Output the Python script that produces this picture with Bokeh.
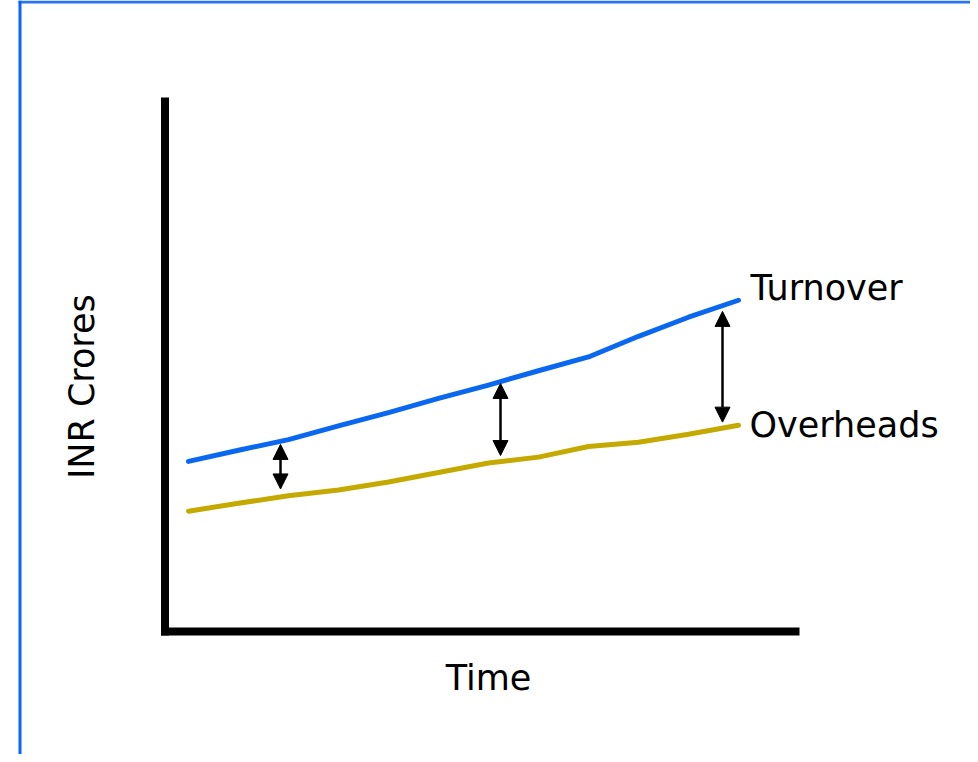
from bokeh.plotting import figure
from bokeh.models import ColumnDataSource, Arrow, NormalHead, Label, Range1d, BoxAnnotation
from bokeh.embed import file_html
from bokeh.resources import INLINE
import math

# ---- data ----
times = [0, 1, 2, 3, 4, 5, 6, 7, 8, 9, 10, 11]
turnover = [32.1, 34.2, 36.2, 38.8, 41.3, 44.0, 46.5, 49.2, 51.8, 55.7, 59.3, 62.5]
overheads = [22.7, 24.2, 25.6, 26.7, 28.2, 30.0, 31.8, 32.9, 34.9, 35.7, 37.2, 38.9]

gap_times = [1.84, 6.24, 10.68]
gap_top = [35.3, 46.8, 60.4]
gap_bottom = [26.9, 33.2, 39.5]

series_names = ["Turnover", "Overheads"]
x_title = "Time"
y_title = "INR Crores"

# axis extents (data units)
axis_x = [-0.47, 12.14]
axis_y = [0, 100]

BLUE = "#0a68f0"
GOLD = "#c4aa00"
FONT = "DejaVu Sans"

p = figure(width=970, height=754, output_backend="svg", toolbar_location=None,
           x_range=Range1d(-3.76, 15.64), y_range=Range1d(-23.21, 119.06),
           min_border=0, x_axis_location=None, y_axis_location=None)
p.grid.visible = False
p.outline_line_color = None
p.background_fill_color = "white"
p.border_fill_color = "white"

# axis lines
p.line([axis_x[0], axis_x[0]], [axis_y[0], axis_y[1]], line_color="black", line_width=8, line_cap="square")
p.line([axis_x[0], axis_x[1]], [axis_y[0], axis_y[0]], line_color="black", line_width=8, line_cap="square")

p.line(times, turnover, line_color=BLUE, line_width=5, line_cap="round", line_join="round")
p.line(times, overheads, line_color=GOLD, line_width=5, line_cap="round", line_join="round")

src = ColumnDataSource(dict(x=gap_times, y0=gap_top, y1=gap_bottom))
p.add_layout(Arrow(x_start="x", y_start="y1", x_end="x", y_end="y0", source=src,
                   line_width=2.5, line_color="black",
                   start=NormalHead(size=15, fill_color="black", line_color="black", line_width=1),
                   end=NormalHead(size=15, fill_color="black", line_color="black", line_width=1)))

p.add_layout(Label(x=times[-1] + 0.24, y=turnover[-1] + 2.36, text=series_names[0],
                   text_font=FONT, text_font_size="35px", text_color="black",
                   text_baseline="alphabetic", text_align="left"))
p.add_layout(Label(x=times[-1] + 0.22, y=overheads[-1] + 0.06, text=series_names[1],
                   text_font=FONT, text_font_size="35px", text_color="black",
                   text_baseline="alphabetic", text_align="left"))
p.add_layout(Label(x=6.0, y=-8.74, text=x_title,
                   text_font=FONT, text_font_size="35px", text_color="black",
                   text_baseline="alphabetic", text_align="center"))
p.add_layout(Label(x=-2.14, y=46.2, text=y_title, angle=math.pi / 2,
                   text_font=FONT, text_font_size="35px", text_color="black",
                   text_baseline="alphabetic", text_align="center"))

# decorative blue frame (top and left)
p.add_layout(BoxAnnotation(left=18, right=970, top=0, bottom=3,
                           left_units="canvas", right_units="canvas",
                           top_units="canvas", bottom_units="canvas",
                           fill_color="#2a74f2", fill_alpha=1, line_color=None))
p.add_layout(BoxAnnotation(left=18, right=21, top=0, bottom=754,
                           left_units="canvas", right_units="canvas",
                           top_units="canvas", bottom_units="canvas",
                           fill_color="#0a64ff", fill_alpha=1, line_color=None))

open("out.html", "w").write(file_html(p, INLINE))
